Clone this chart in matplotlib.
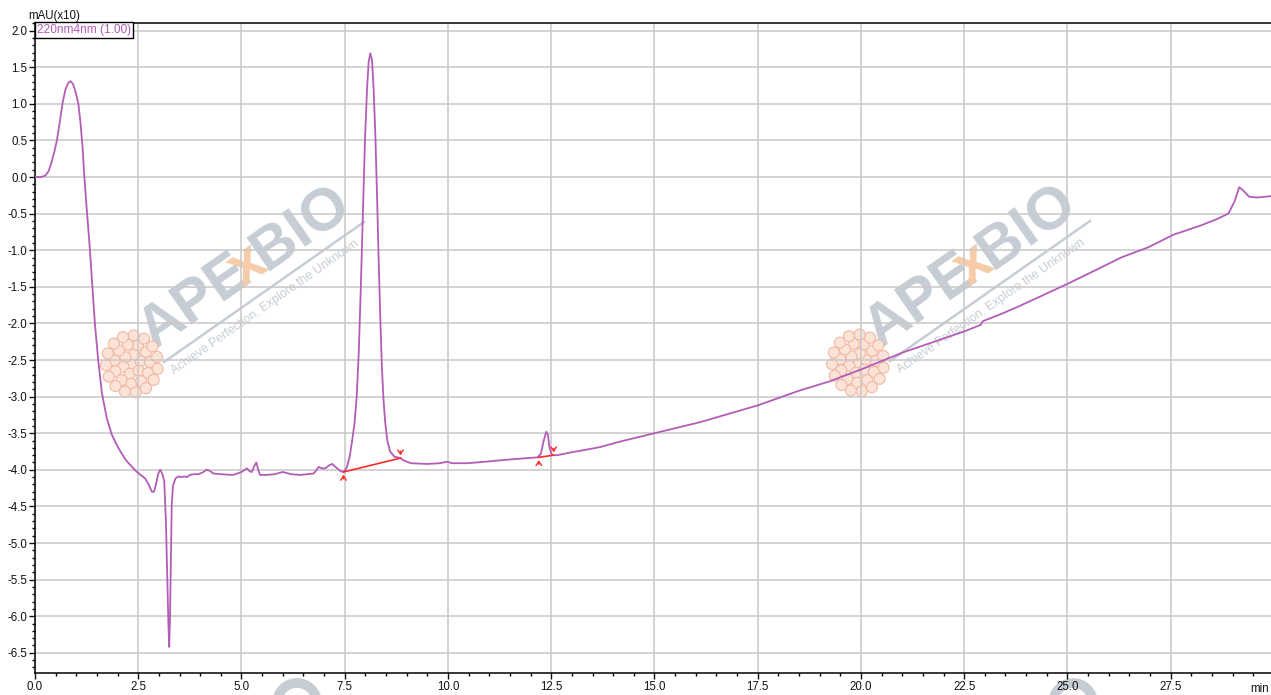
import numpy as np
import matplotlib
matplotlib.use('Agg')
import matplotlib.pyplot as plt
from matplotlib.transforms import Affine2D
from matplotlib.patches import Circle
from matplotlib.lines import Line2D
from matplotlib.font_manager import FontProperties
from matplotlib.ticker import MultipleLocator, FormatStrFormatter

plt.rcParams['font.family'] = ['Liberation Sans', 'DejaVu Sans']

# retention time (min) and signal (mAU x10)
time = [0.0, 0.15, 0.25, 0.33, 0.40, 0.47, 0.53, 0.60, 0.67, 0.74, 0.80, 0.86,
        0.92, 0.98, 1.05, 1.10, 1.15, 1.19, 1.24, 1.29, 1.33, 1.39, 1.45, 1.53,
        1.62, 1.74, 1.86, 1.98, 2.10, 2.22, 2.35, 2.47, 2.58, 2.67, 2.75, 2.83,
        2.88, 2.93, 2.98, 3.03, 3.08, 3.13, 3.17, 3.20, 3.23, 3.25, 3.27, 3.29,
        3.31, 3.34, 3.40, 3.47, 3.55, 3.62, 3.68, 3.75, 3.85, 3.95, 4.05, 4.15,
        4.22, 4.32, 4.50, 4.80, 5.00, 5.13, 5.20, 5.25, 5.31, 5.36, 5.40, 5.45,
        5.60, 5.80, 6.00, 6.20, 6.42, 6.60, 6.75, 6.82, 6.87, 6.95, 7.03, 7.12,
        7.20, 7.27, 7.32, 7.40, 7.47, 7.55, 7.62, 7.68, 7.74, 7.79, 7.84, 7.89,
        7.94, 7.99, 8.04, 8.08, 8.12, 8.16, 8.20, 8.24, 8.28, 8.32, 8.36, 8.40,
        8.44, 8.48, 8.53, 8.60, 8.70, 8.85, 8.92, 9.10, 9.50, 9.80, 9.98, 10.10,
        10.47, 10.90, 11.27, 11.70, 12.17, 12.25, 12.32, 12.38, 12.42, 12.46,
        12.52, 12.65, 13.00, 13.30, 13.68, 14.20, 15.00, 16.10, 17.50, 18.50,
        19.25, 20.00, 21.00, 22.50, 22.90, 22.95, 23.40, 23.85, 25.00, 25.80,
        26.30, 26.96, 27.56, 28.24, 28.60, 28.90, 29.05, 29.16, 29.25, 29.40,
        29.60, 29.94]
signal = [0.0, 0.0, 0.02, 0.08, 0.20, 0.35, 0.50, 0.75, 1.02, 1.20, 1.28, 1.31,
          1.27, 1.17, 1.00, 0.75, 0.42, 0.05, -0.35, -0.70, -1.00, -1.50, -2.00, -2.50,
          -2.95, -3.30, -3.52, -3.66, -3.78, -3.88, -3.96, -4.03, -4.08, -4.12, -4.20, -4.30,
          -4.30, -4.20, -4.06, -4.00, -4.05, -4.16, -4.70, -5.40, -6.10, -6.42, -6.00, -5.20,
          -4.50, -4.22, -4.12, -4.09, -4.10, -4.09, -4.10, -4.07, -4.06, -4.06, -4.04, -4.00,
          -4.01, -4.05, -4.06, -4.07, -4.03, -3.98, -4.02, -4.03, -3.95, -3.90, -3.99, -4.07,
          -4.07, -4.06, -4.03, -4.06, -4.07, -4.06, -4.05, -4.00, -3.96, -3.98, -3.98, -3.94,
          -3.92, -3.96, -3.98, -4.02, -4.03, -3.97, -3.82, -3.60, -3.35, -3.00, -2.40, -1.50,
          -0.50, 0.50, 1.20, 1.58, 1.69, 1.60, 1.20, 0.60, -0.20, -1.10, -1.90, -2.60,
          -3.05, -3.35, -3.60, -3.75, -3.82, -3.84, -3.87, -3.91, -3.92, -3.91, -3.89, -3.91,
          -3.91, -3.89, -3.87, -3.85, -3.83, -3.78, -3.60, -3.48, -3.52, -3.70,
          -3.80, -3.80, -3.76, -3.73, -3.69, -3.61, -3.50, -3.35, -3.12, -2.92,
          -2.79, -2.63, -2.40, -2.11, -2.02, -1.97, -1.87, -1.76, -1.46, -1.24,
          -1.10, -0.96, -0.79, -0.66, -0.58, -0.50, -0.33, -0.14, -0.18, -0.27,
          -0.28, -0.26]

# integration baselines (start, end) for the two detected peaks
base_t = [(7.47, 8.85), (12.20, 12.56)]
base_y = [(-4.03, -3.84), (-3.83, -3.80)]

legend_label = '220nm4nm (1.00)'
y_unit = 'mAU(x10)'

W, H = 1271, 695
fig = plt.figure(figsize=(W / 100, H / 100), dpi=100)
ax = fig.add_axes([35 / W, 22 / H, (W - 35) / W, 650 / H])
px = Affine2D().scale(1 / W, 1 / H) + fig.transFigure

line_col = '#b35cb8'
ax.plot(time, signal, color=line_col, lw=1.3, zorder=3)

red = '#ff2a2a'
arrow = dict(arrowstyle='->,head_length=0.3,head_width=0.2', color=red, lw=1)
for (t0, t1), (y0, y1) in zip(base_t, base_y):
    ax.plot([t0, t1], [y0, y1], color=red, lw=1.2, zorder=4)
    ax.annotate('', xy=(t0, y0), xytext=(0, -7), textcoords='offset points',
                arrowprops=arrow, zorder=4)
    ax.annotate('', xy=(t1, y1), xytext=(0, 7), textcoords='offset points',
                arrowprops=arrow, zorder=4)

ax.set_xlim(0, 29.93)
ax.set_ylim(-6.776, 2.104)
ax.xaxis.set_major_locator(MultipleLocator(2.5))
ax.xaxis.set_minor_locator(MultipleLocator(0.5))
ax.yaxis.set_major_locator(MultipleLocator(0.5))
ax.yaxis.set_minor_locator(MultipleLocator(0.1))
ax.xaxis.set_major_formatter(FormatStrFormatter('%.1f'))
ax.yaxis.set_major_formatter(FormatStrFormatter('%.1f'))
ax.grid(True, which='major', color='#c8c8c8', lw=1.1)
ax.tick_params(which='major', length=4.5, width=1, labelsize=8.3, pad=1,
               colors='#111111')
ax.tick_params(which='minor', length=2.5, width=1)
for s in ['left', 'bottom', 'top']:
    ax.spines[s].set_linewidth(1.1)
ax.spines['right'].set_visible(False)

# legend box and unit label
ax.text(37, H - 33, legend_label, transform=px, color=line_col, fontsize=8.6,
        va='baseline', ha='left', zorder=6,
        bbox=dict(boxstyle='square,pad=0.15', fc='white', ec='black', lw=1))
ax.text(28, H - 19, y_unit, transform=px, fontsize=8.3, color='#111111',
        va='baseline', ha='left', clip_on=False)
ax.text(1250, H - 692, 'min', transform=px, fontsize=8.3, color='#111111',
        va='baseline', ha='left', clip_on=False)

# APExBIO watermark (drawn under the grid)
renderer = fig.canvas.get_renderer()
ang = 35
ca, sa = np.cos(np.radians(ang)), np.sin(np.radians(ang))
wm_gray = '#c6cdd4'
wm_orange = '#f6cba8'
wm_font = FontProperties(family='Liberation Sans', weight='bold', size=43)


def watermark(x0, y0):
    # x0, y0: image pixel of the bottom-left of the 'A'
    bx, by = x0, H - y0
    for piece, col in [('APE', wm_gray), ('x', wm_orange), ('BIO', wm_gray)]:
        ax.text(bx, by, piece, transform=px, fontproperties=wm_font,
                color=col, rotation=ang, rotation_mode='anchor', ha='left',
                va='baseline', clip_on=False, zorder=0.4)
        w = renderer.get_text_width_height_descent(piece, wm_font, ismath=False)[0]
        bx += w * 0.88 * ca
        by += w * 0.88 * sa
    ax.add_line(Line2D([x0 + 10, x0 + 210], [H - y0 - 12, H - y0 + 128],
                       transform=px, color=wm_gray, lw=1.8, clip_on=False,
                       zorder=0.4))
    ax.text(x0 + 20, H - y0 - 25, 'Achieve Perfection, Explore the Unknown',
            transform=px, fontsize=8.8, color=wm_gray, rotation=ang,
            rotation_mode='anchor', ha='left', va='baseline', clip_on=False,
            zorder=0.4)
    # flower logo: a cluster of small bubbles
    cx, cy = x0 - 22, H - y0 - 14
    for r, n, off in [(0, 1, 0.0), (9, 6, 0.3), (18, 11, 0.1), (26, 15, 0.25)]:
        for k in range(n):
            a = 2 * np.pi * k / n + off
            ax.add_patch(Circle((cx + r * np.cos(a), cy + 1.1 * r * np.sin(a)),
                                5.5, transform=px, fc='#fbe3d8', ec='#f1b9a5',
                                lw=0.8, clip_on=False, zorder=0.4))


for ox, oy in [(154, 350), (880, 349)]:
    watermark(ox, oy)

# next row of the watermark, only the top of one letter shows under the axis
for cx in [297, 1073]:
    ax.add_patch(Circle((cx, H - 703), 20, transform=px, fc='none', ec=wm_gray,
                        lw=7, clip_on=False, zorder=0.4))

fig.savefig('out.png', dpi=100)
